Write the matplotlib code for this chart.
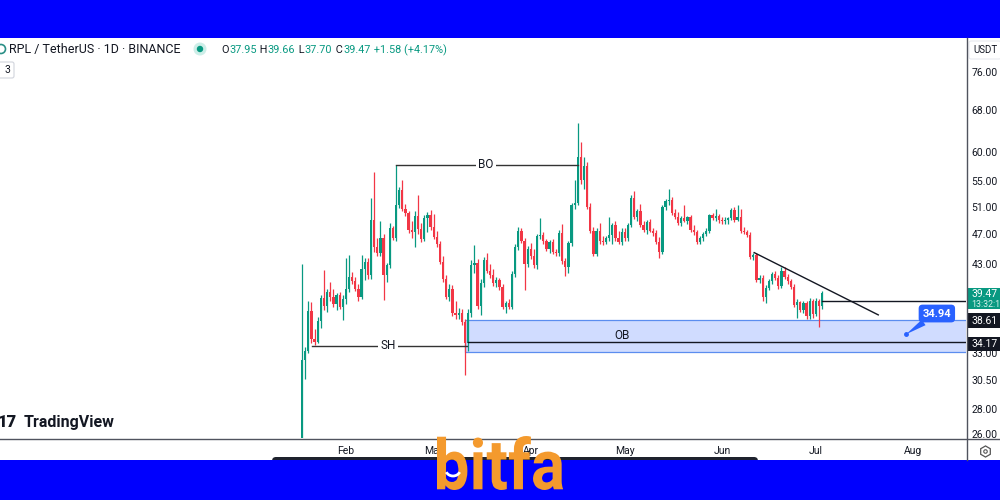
import numpy as np
import matplotlib
matplotlib.use("Agg")
import matplotlib.pyplot as plt
import matplotlib.dates as mdates
import matplotlib.transforms as mtransforms
from matplotlib.patches import Rectangle, FancyBboxPatch, PathPatch, Arc, Circle
from matplotlib.textpath import TextPath
from matplotlib.font_manager import FontProperties
from matplotlib.ticker import NullLocator
from datetime import datetime

plt.rcParams['font.family'] = ['Roboto', 'DejaVu Sans']

# RPL/USDT daily candles, first bar 2023-01-18
start_day = datetime(2023, 1, 18)
opens = [25.0, 32.4, 33.2, 37.4, 34.4, 34.1, 36.3, 38.9, 38.0, 39.6,
         39.0, 38.2, 39.2, 37.9, 38.8, 40.0, 41.4, 40.9, 40.0, 39.0,
         42.4, 43.3, 41.6, 49.0, 45.3, 44.4, 46.4, 41.6, 42.9, 47.9,
         46.5, 51.3, 53.6, 50.6, 50.0, 47.6, 47.3, 49.6, 47.7, 46.3,
         49.3, 49.8, 48.0, 46.6, 45.6, 43.3, 41.1, 39.0, 39.9, 37.2,
         37.0, 37.2, 36.2, 34.0, 37.2, 42.9, 43.1, 38.0, 40.7, 43.5,
         42.1, 41.6, 40.7, 41.0, 40.2, 37.9, 38.3, 37.9, 41.8, 45.3,
         47.5, 46.0, 43.0, 45.0, 44.0, 42.9, 46.7, 46.9, 46.0, 45.0,
         45.9, 44.6, 44.4, 47.2, 43.4, 42.6, 45.8, 51.2, 51.6, 59.1,
         55.2, 57.6, 51.0, 47.4, 44.3, 47.4, 46.0, 45.9, 46.5, 46.9,
         48.3, 46.5, 45.9, 47.3, 46.5, 48.3, 52.3, 49.5, 50.3, 48.3,
         47.6, 48.7, 47.5, 47.2, 45.9, 44.6, 50.9, 51.9, 52.0, 50.1,
         49.5, 48.6, 49.3, 48.9, 49.4, 47.6, 47.3, 45.9, 46.5, 47.0,
         47.5, 49.7, 49.3, 49.6, 49.0, 48.8, 49.0, 49.3, 50.5, 49.0,
         49.4, 47.5, 47.3, 46.9, 43.9, 44.2, 41.0, 41.3, 39.0, 40.1,
         40.9, 41.8, 41.3, 40.3, 42.2, 41.4, 40.9, 40.2, 38.1, 38.4,
         37.5, 38.3, 36.9, 38.6, 37.1, 38.6, 37.95]
highs = [43.0, 33.6, 38.6, 38.4, 35.5, 36.8, 39.2, 42.3, 40.0, 40.8,
         39.9, 39.5, 39.6, 39.2, 43.8, 44.2, 42.0, 41.4, 40.6, 44.2,
         43.8, 43.8, 52.3, 56.5, 46.5, 48.8, 47.0, 43.2, 48.6, 48.2,
         57.7, 54.0, 55.2, 51.4, 50.4, 48.8, 50.3, 52.8, 48.6, 49.7,
         50.2, 50.5, 49.9, 47.4, 46.0, 44.0, 41.6, 40.5, 40.4, 38.6,
         37.8, 37.6, 36.5, 37.6, 43.5, 45.5, 43.6, 41.2, 43.9, 44.4,
         43.0, 42.4, 41.4, 41.3, 40.5, 38.6, 38.8, 42.2, 45.6, 48.0,
         47.9, 46.5, 45.4, 45.8, 45.0, 47.0, 49.3, 47.3, 46.3, 46.2,
         46.3, 45.0, 47.6, 48.5, 43.8, 46.0, 51.6, 55.2, 65.3, 61.8,
         59.0, 58.2, 51.6, 48.0, 47.8, 48.6, 46.7, 46.8, 49.5, 48.6,
         48.9, 47.5, 47.8, 47.8, 48.6, 52.8, 53.4, 50.6, 51.4, 48.8,
         49.0, 49.1, 47.9, 47.6, 46.6, 51.3, 52.2, 53.7, 52.4, 50.6,
         50.2, 49.6, 51.3, 49.6, 49.8, 48.3, 47.6, 46.8, 47.3, 47.8,
         49.9, 50.0, 50.6, 49.9, 49.5, 49.4, 49.5, 50.8, 51.0, 51.3,
         50.6, 48.0, 47.6, 47.3, 44.5, 44.4, 41.6, 41.7, 40.4, 41.2,
         42.0, 42.1, 41.6, 42.6, 42.6, 41.8, 41.2, 40.5, 38.8, 38.6,
         38.6, 38.6, 38.9, 38.8, 38.9, 38.8, 39.66]
lows = [24.5, 30.6, 33.0, 34.0, 33.8, 34.0, 35.6, 37.5, 37.3, 38.6,
        37.9, 37.5, 37.6, 36.4, 38.2, 39.6, 40.6, 39.7, 38.5, 38.8,
        41.0, 41.2, 41.2, 44.6, 44.0, 44.0, 38.7, 40.8, 42.5, 46.2,
        46.0, 50.8, 50.3, 49.6, 47.2, 46.4, 45.3, 47.0, 45.9, 46.0,
        47.3, 47.6, 46.3, 45.3, 43.0, 40.8, 38.8, 38.6, 36.9, 36.6,
        36.5, 35.9, 31.0, 33.2, 36.8, 41.9, 37.6, 37.0, 40.2, 41.9,
        41.3, 40.3, 40.2, 39.8, 37.6, 37.2, 37.7, 37.6, 41.4, 44.8,
        45.8, 39.8, 42.6, 43.6, 42.5, 42.4, 46.3, 45.7, 44.7, 44.4,
        44.3, 44.1, 44.0, 43.0, 41.5, 41.9, 45.4, 50.6, 51.2, 54.6,
        53.8, 50.6, 47.2, 44.0, 44.0, 45.7, 45.5, 45.6, 46.1, 45.7,
        46.0, 45.6, 45.5, 46.1, 46.0, 48.0, 49.2, 48.8, 48.0, 47.3,
        47.0, 47.3, 46.8, 45.6, 43.8, 44.3, 50.5, 51.3, 49.8, 49.2,
        48.3, 48.2, 48.7, 48.5, 47.3, 46.9, 45.6, 45.6, 46.1, 46.7,
        47.2, 49.0, 48.9, 48.6, 48.5, 48.4, 48.5, 49.0, 48.7, 48.8,
        47.2, 47.0, 46.6, 43.6, 43.5, 40.8, 40.7, 38.6, 38.3, 39.8,
        40.6, 41.0, 40.0, 40.1, 41.1, 40.6, 40.0, 37.9, 36.7, 37.3,
        37.2, 36.6, 36.6, 36.7, 36.9, 35.7, 37.70]
closes = [32.4, 33.2, 37.4, 34.4, 34.1, 36.3, 38.9, 38.0, 39.6, 39.0,
          38.2, 39.2, 37.9, 38.8, 40.0, 41.4, 40.9, 40.0, 39.0, 42.4,
          43.3, 41.6, 49.0, 45.3, 44.4, 46.4, 41.6, 42.9, 47.9, 46.5,
          51.3, 53.6, 50.6, 50.0, 47.6, 47.3, 49.6, 47.7, 46.3, 49.3,
          49.8, 48.0, 46.6, 45.6, 43.3, 41.1, 39.0, 39.9, 37.2, 37.0,
          37.2, 36.2, 34.0, 37.2, 42.9, 43.1, 38.0, 40.7, 43.5, 42.1,
          41.6, 40.7, 41.0, 40.2, 37.9, 38.3, 37.9, 41.8, 45.3, 47.5,
          46.0, 43.0, 45.0, 44.0, 42.9, 46.7, 46.9, 46.0, 45.0, 45.9,
          44.6, 44.4, 47.2, 43.4, 42.6, 45.8, 51.2, 51.6, 59.1, 55.2,
          57.6, 51.0, 47.4, 44.3, 47.4, 46.0, 45.9, 46.5, 46.9, 48.3,
          46.5, 45.9, 47.3, 46.5, 48.3, 52.3, 49.5, 50.3, 48.3, 47.6,
          48.7, 47.5, 47.2, 45.9, 44.6, 50.9, 51.9, 52.0, 50.1, 49.5,
          48.6, 49.3, 48.9, 49.4, 47.6, 47.3, 45.9, 46.5, 47.0, 47.5,
          49.7, 49.3, 49.6, 49.0, 48.8, 49.0, 49.3, 50.5, 49.0, 49.4,
          47.5, 47.3, 46.9, 43.9, 44.2, 41.0, 41.3, 39.0, 40.1, 40.9,
          41.8, 41.3, 40.3, 42.2, 41.4, 40.9, 40.2, 38.1, 38.4, 37.5,
          38.3, 36.9, 38.6, 37.1, 38.6, 37.95, 39.47]

month_ticks = [datetime(2023, m, 1) for m in range(2, 9)]
month_labels = ['Feb', 'Mar', 'Apr', 'May', 'Jun', 'Jul', 'Aug']
price_ticks = [26, 28, 30.5, 33, 43, 47, 51, 55, 60, 68, 76]

# header legend pieces (text, is_value)
legend_parts = [('O', False), ('37.95', True), (' H', False), ('39.66', True),
                (' L', False), ('37.70', True), (' C', False), ('39.47', True),
                (' +1.58 (+4.17%)', True)]

# drawings (day index from start_day, price)
sh_level, sh_from, sh_to, sh_text_at = 33.75, 3.2, 52.6, 27.4
bo_level, bo_from, bo_to, bo_text_at = 57.7, 30.0, 88.0, 58.7
ob_top, ob_bottom, ob_mid, ob_from, ob_text_at = 36.46, 33.15, 34.17, 52.0, 102.0
trend_x, trend_y = [144.3, 183.9], [44.5, 37.0]
last_level, last_from = 38.61, 166.0
target_price, target_x = 34.94, 192.8

GREEN = '#089981'
RED = '#F23645'
INK = '#131722'

fig = plt.figure(figsize=(10, 5), dpi=100)
fig.patch.set_facecolor('white')
ax = fig.add_axes([0, 0.124, 0.966, 0.8])

d0 = mdates.date2num(start_day)
o = np.array(opens); h = np.array(highs); l = np.array(lows); c = np.array(closes)
x = d0 + np.arange(len(c))
cols = np.where(c >= o, GREEN, RED)
ax.vlines(x, l, h, colors=cols, linewidth=0.9, zorder=3)
ax.bar(x, np.maximum(np.abs(c - o), 0.08), bottom=np.minimum(o, c), width=0.72,
       color=cols, linewidth=0, zorder=4)

ax.set_yscale('log')
ax.set_ylim(25.69, 84.05)
ax.set_xlim(d0 - 96.4, d0 + 211.9)
ax.yaxis.set_minor_locator(NullLocator())
ax.xaxis.set_minor_locator(NullLocator())
ax.yaxis.tick_right()
ax.set_yticks(price_ticks)
ax.set_yticklabels([f'{v:.2f}' for v in price_ticks])
ax.set_xticks([mdates.date2num(d) for d in month_ticks])
ax.set_xticklabels(month_labels)
ax.tick_params(axis='y', length=0, pad=4, labelsize=7.5, labelcolor=INK)
ax.tick_params(axis='x', length=0, pad=6, labelsize=7.5, labelcolor=INK)
for s in ax.spines.values():
    s.set_visible(False)

# order block
ax.add_patch(Rectangle((d0 + ob_from, ob_bottom), 400, ob_top - ob_bottom,
                       facecolor='#2962FF', alpha=0.22, edgecolor='none', zorder=2))
ax.add_patch(Rectangle((d0 + ob_from, ob_bottom), 400, ob_top - ob_bottom,
                       facecolor='none', edgecolor='#5b8def', linewidth=0.9, zorder=2))
ax.plot([d0 + ob_from + 1, d0 + 300], [ob_mid, ob_mid], color=INK, lw=1, zorder=5)
ax.text(d0 + ob_text_at, 34.85, 'OB', ha='center', va='center', fontsize=8.5, color=INK, zorder=6)

# swing high / break out
ax.plot([d0 + sh_from, d0 + sh_to], [sh_level, sh_level], color='#333333', lw=1, zorder=5)
ax.text(d0 + sh_text_at, sh_level, 'SH', ha='center', va='center', fontsize=8.5, color=INK,
        bbox=dict(fc='white', ec='none', pad=1.5), zorder=6)
ax.plot([d0 + bo_from, d0 + bo_to], [bo_level, bo_level], color='#333333', lw=1, zorder=5)
ax.text(d0 + bo_text_at, bo_level, 'BO', ha='center', va='center', fontsize=8.5, color=INK,
        bbox=dict(fc='white', ec='none', pad=1.5), zorder=6)

# trend line + last close line
ax.plot([d0 + v for v in trend_x], trend_y, color=INK, lw=1, zorder=5)
ax.plot([d0 + last_from, d0 + 300], [last_level, last_level], color=INK, lw=1, zorder=5)

# target callout
ax.plot(d0 + target_x, target_price, 'o', ms=2.5, color='#2962FF', zorder=7)
ax.annotate(f'{target_price:.2f}', xy=(d0 + target_x, target_price),
            xytext=(d0 + 202.6, 37.15), ha='center', va='center', fontsize=8,
            fontweight='bold', color='white', zorder=8,
            bbox=dict(boxstyle='round,pad=0.35', fc='#2962FF', ec='none'),
            arrowprops=dict(arrowstyle='wedge,tail_width=0.6', fc='#2962FF', ec='none',
                            shrinkA=0, shrinkB=0))

# ---- chrome overlay in pixel units
ui = fig.add_axes([0, 0, 1, 1], zorder=10)
ui.set_xlim(0, 1000)
ui.set_ylim(500, 0)
ui.axis('off')
ui.patch.set_visible(False)

ui.plot([0, 1000], [438.5, 438.5], color='#50535e', lw=1)
ui.plot([966.5, 966.5], [38, 460], color='#50535e', lw=1)

# header
ui.add_patch(Circle((1, 49), 4.5, fc='none', ec='#2a8f86', lw=1.2))
ui.text(9, 49, 'RPL / TetherUS · 1D · BINANCE', fontsize=9, color=INK, va='center')
ui.add_patch(Circle((200, 49), 6.5, fc='#cdeee8', ec='none'))
ui.add_patch(Circle((200, 49), 3.2, fc=GREEN, ec='none'))

renderer = fig.canvas.get_renderer()
inv = ui.transData.inverted()
cur_x = 221
for part, is_val in legend_parts:
    t = ui.text(cur_x, 50, part, fontsize=7.8, color=GREEN if is_val else INK, va='center')
    bb = t.get_window_extent(renderer=renderer)
    cur_x = inv.transform((bb.x1, bb.y0))[0] + 0.5

ui.add_patch(FancyBboxPatch((-6, 62), 20, 16, boxstyle='round,pad=0,rounding_size=2',
                            fc='white', ec='#d1d4dc', lw=0.8))
ui.text(7, 70, '3', fontsize=7.5, color=INK, va='center', ha='center')

ui.add_patch(FancyBboxPatch((969, 41), 32, 18, boxstyle='round,pad=0,rounding_size=2',
                            fc='white', ec='#e0e3eb', lw=0.6))
ui.text(973, 50, 'USDT', fontsize=7, color=INK, va='center')

# right scale labels
ui.add_patch(Rectangle((967, 288), 40, 21, fc=GREEN, ec='none'))
ui.text(971, 294, '39.47', fontsize=7.5, color='white', va='center')
ui.text(971, 304.5, '13:32:1', fontsize=6.3, color='#d6f2ec', va='center')
ui.add_patch(Rectangle((967, 313), 40, 15, fc=INK, ec='none'))
ui.text(971, 321, '38.61', fontsize=7.5, color='white', va='center')
ui.add_patch(Rectangle((967, 337), 40, 14, fc=INK, ec='none'))
ui.text(971, 344, '34.17', fontsize=7.5, color='white', va='center')
ui.plot(985, 451, marker='h', ms=8, mfc='none', mec='#555555', mew=0.9)
ui.plot(985, 451, marker='o', ms=2.5, mfc='none', mec='#555555', mew=0.8)

# TradingView mark
ui.text(-2, 422, '17', fontsize=12, fontweight='heavy', color=INK, va='center')
ui.text(24, 422, 'TradingView', fontsize=11.5, fontweight='semibold', color=INK, va='center')

# banners
ui.add_patch(FancyBboxPatch((272, 457), 486, 12, boxstyle='round,pad=0,rounding_size=4',
                            fc='#1e222d', ec='none'))
ui.add_patch(Rectangle((0, 0), 1000, 38, fc='#0000FE', ec='none'))
ui.add_patch(Rectangle((0, 460), 1000, 40, fc='#0000FE', ec='none'))

# bitfa logo
tp = TextPath((0, 0), 'bitfa', size=1, prop=FontProperties(family='Roboto', weight='bold'))
ext = tp.get_extents()
tr = (mtransforms.Affine2D().translate(-ext.x0, -ext.y0)
      .scale(126 / ext.width, -54 / ext.height).translate(437, 490))
ui.add_patch(PathPatch(tr.transform_path(tp), fc='#F49A2D', ec='none', zorder=20))
ui.add_patch(Arc((453, 469), 15, 14, theta1=25, theta2=155, color='white', lw=2, zorder=21))

fig.savefig('out.png', dpi=100)
